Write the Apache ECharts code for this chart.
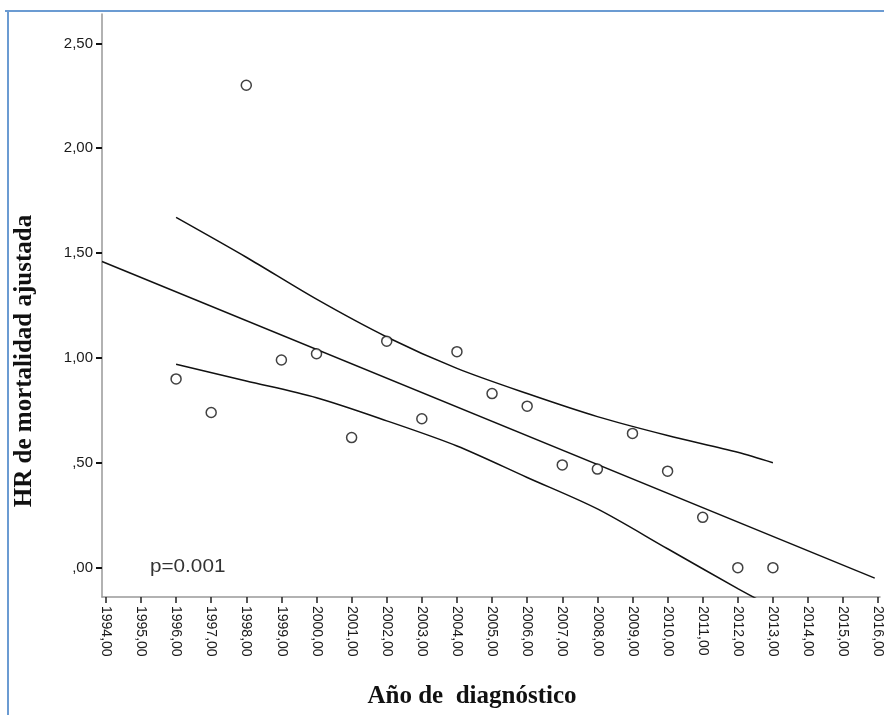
<!DOCTYPE html>
<html lang="es">
<head>
<meta charset="UTF-8">
<title>HR de mortalidad ajustada</title>
<script src="https://cdn.jsdelivr.net/npm/echarts@6/dist/echarts.min.js"></script>
<style>
  html, body { margin: 0; padding: 0; background: #fff; }
  #chart { width: 884px; height: 715px; }
</style>
</head>
<body>
<div id="chart"></div>
<script>
  // año de diagnóstico / HR ajustada
  var years = [1996, 1997, 1998, 1999, 2000, 2001, 2002, 2003, 2004, 2005, 2006, 2007, 2008, 2009, 2010, 2011, 2012, 2013];
  var hr = [0.90, 0.74, 2.30, 0.99, 1.02, 0.62, 1.08, 0.71, 1.03, 0.83, 0.77, 0.49, 0.47, 0.64, 0.46, 0.24, 0.00, 0.00];

  // recta de regresión (extremos)
  var fitYears = [1993.89, 2015.9];
  var fitHr = [1.46, -0.05];

  // bandas de confianza
  var bandYears = [1996, 1998, 2000, 2002, 2004, 2006, 2008, 2010, 2012, 2013];
  var upperHr = [1.67, 1.48, 1.28, 1.10, 0.95, 0.83, 0.72, 0.63, 0.55, 0.50];
  var lowerHr = [0.97, 0.89, 0.81, 0.70, 0.58, 0.43, 0.28, 0.09, -0.10, -0.19];

  // ticks
  var xTicks = [1994, 1995, 1996, 1997, 1998, 1999, 2000, 2001, 2002, 2003, 2004, 2005, 2006, 2007, 2008, 2009, 2010, 2011, 2012, 2013, 2014, 2015, 2016];
  var yTicks = [0, 0.5, 1, 1.5, 2, 2.5];

  function pairs(xs, ys) {
    return xs.map(function (x, i) { return [x, ys[i]]; });
  }

  // formato SPSS en español: "1,50", ",50"
  function fmt(v) {
    var s = v.toFixed(2).replace('.', ',');
    if (s.indexOf('0,') === 0) s = s.substring(1);
    return s;
  }

  var lineStyle = { color: '#111', width: 1.5 };

  var option = {
    backgroundColor: '#fff',
    animation: false,
    grid: { left: 102, right: 4, top: 14, bottom: 118, containLabel: false, outerBoundsMode: 'none' },
    xAxis: {
      type: 'value',
      min: 1993.89,
      max: 2016.05,
      axisLine: { show: true, onZero: false, lineStyle: { color: '#999', width: 1.5 } },
      axisTick: { show: true, customValues: xTicks, length: 6, lineStyle: { color: '#222', width: 1.5 } },
      axisLabel: {
        customValues: xTicks,
        rotate: -90,
        margin: 9,
        fontSize: 14,
        fontFamily: 'Liberation Sans',
        color: '#1a1a1a',
        formatter: fmt
      },
      splitLine: { show: false }
    },
    yAxis: {
      type: 'value',
      min: -0.14,
      max: 2.64,
      axisLine: { show: true, onZero: false, lineStyle: { color: '#999', width: 1.5 } },
      axisTick: { show: true, customValues: yTicks, length: 6, lineStyle: { color: '#111', width: 2 } },
      axisLabel: {
        customValues: yTicks,
        margin: 9,
        fontSize: 15,
        fontFamily: 'Liberation Sans',
        color: '#1a1a1a',
        formatter: fmt
      },
      splitLine: { show: false }
    },
    series: [
      {
        type: 'line',
        data: pairs(fitYears, fitHr),
        showSymbol: false,
        lineStyle: lineStyle,
        z: 2
      },
      {
        type: 'line',
        data: pairs(bandYears, upperHr),
        smooth: 0.3,
        showSymbol: false,
        lineStyle: lineStyle,
        z: 2
      },
      {
        type: 'line',
        data: pairs(bandYears, lowerHr),
        smooth: 0.3,
        showSymbol: false,
        lineStyle: lineStyle,
        clip: true,
        z: 2
      },
      {
        type: 'scatter',
        data: pairs(years, hr),
        symbol: 'circle',
        symbolSize: 10,
        itemStyle: { color: '#fff', borderColor: '#111', borderWidth: 1.5 },
        z: 3
      }
    ],
    graphic: [
      // marco azul de la captura
      { type: 'line', shape: { x1: 5, y1: 11, x2: 884, y2: 11 }, style: { stroke: '#6b9bd2', lineWidth: 2 } },
      { type: 'line', shape: { x1: 8, y1: 11, x2: 8, y2: 715 }, style: { stroke: '#6b9bd2', lineWidth: 2 } },
      {
        type: 'text', x: 150, y: 567, scaleX: 1.15,
        style: {
          text: 'p=0.001', font: '18px "Liberation Sans"', fill: '#333',
          align: 'left', verticalAlign: 'middle', textAlign: 'left', textVerticalAlign: 'middle'
        }
      },
      {
        type: 'text', x: 25, y: 361, rotation: Math.PI / 2,
        style: {
          text: 'HR de mortalidad ajustada', font: 'bold 25px "Liberation Serif"', fill: '#111',
          align: 'center', verticalAlign: 'middle', textAlign: 'center', textVerticalAlign: 'middle'
        }
      },
      {
        type: 'text', x: 472, y: 697,
        style: {
          text: 'Año de  diagnóstico', font: 'bold 25px "Liberation Serif"', fill: '#111',
          align: 'center', verticalAlign: 'middle', textAlign: 'center', textVerticalAlign: 'middle'
        }
      }
    ]
  };

  echarts.init(document.getElementById('chart')).setOption(option);
</script>
</body>
</html>
